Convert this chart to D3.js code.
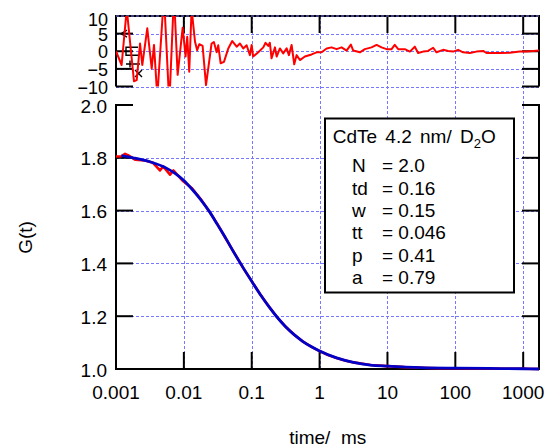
<!DOCTYPE html>
<html>
<head>
<meta charset="utf-8">
<script src="https://cdn.jsdelivr.net/npm/d3@7/dist/d3.min.js"></script>
<style>
    body { margin: 0; background: #fff; }
    svg text { font-family: "Liberation Sans", Arial, sans-serif; font-size: 19px; fill: #000; }
</style>
</head>
<body>
<svg id="chart" width="552" height="448"></svg>
<script>
    // tick values / labels
    var timeTicks = [0.001, 0.01, 0.1, 1, 10, 100, 1000];
    var timeTickLabels = ["0.001", "0.01", "0.1", "1", "10", "100", "1000"];
    var gTicks = [1.0, 1.2, 1.4, 1.6, 1.8, 2.0];
    var resTicks = [10, 5, 0, -5, -10];

    // measured G(t) (red), time in ms
    var dataT = [0.00100, 0.00121, 0.00136, 0.00150, 0.00191, 0.00267, 0.00351, 0.00444, 0.00496, 0.00625,
                 0.00700, 0.00980, 0.0130, 0.0178, 0.0237, 0.0316, 0.0422, 0.0562, 0.0750, 0.100,
                 0.133, 0.178, 0.237, 0.316, 0.422, 0.562, 0.750, 1.00, 1.33, 1.78,
                 2.37, 3.16, 5.62, 10.0, 17.8, 31.6, 56.2, 100, 178, 316, 562, 1000, 1710];
    var dataG = [1.805, 1.806, 1.815, 1.810, 1.793, 1.790, 1.781, 1.752, 1.767, 1.736,
                 1.752, 1.711, 1.686, 1.643, 1.597, 1.547, 1.490, 1.437, 1.382, 1.333,
                 1.283, 1.238, 1.196, 1.160, 1.130, 1.105, 1.085, 1.068, 1.053, 1.042,
                 1.032, 1.025, 1.015, 1.011, 1.007, 1.005, 1.003, 1.003, 1.002, 1.002, 1.001, 1.001, 1.000];

    // fit curve (blue)
    var fitT = [0.00120, 0.00178, 0.00316, 0.00562, 0.00750, 0.0100, 0.0133, 0.0178, 0.0237, 0.0316,
                0.0422, 0.0562, 0.0750, 0.100, 0.133, 0.178, 0.237, 0.316, 0.422, 0.562,
                0.750, 1.00, 1.78, 3.16, 5.62, 10.0, 31.6, 100, 316, 1000, 1710];
    var fitG = [1.808, 1.800, 1.785, 1.760, 1.740, 1.714, 1.680, 1.641, 1.597, 1.545,
                1.492, 1.436, 1.383, 1.332, 1.283, 1.237, 1.196, 1.160, 1.130, 1.105,
                1.085, 1.068, 1.042, 1.025, 1.015, 1.011, 1.005, 1.003, 1.002, 1.001, 1.000];

    // residuals (top panel)
    var resT = [0.00100, 0.00121, 0.00144, 0.00184, 0.00202, 0.00226, 0.00244, 0.00289, 0.00336, 0.00363,
                0.00406, 0.00509, 0.00610, 0.00715, 0.00810, 0.00960, 0.0106, 0.0112, 0.0120, 0.0130,
                0.0146, 0.0157, 0.0169, 0.0189, 0.0212, 0.0256, 0.0277, 0.0304, 0.0321, 0.0348,
                0.0390, 0.0451, 0.0516, 0.0600, 0.0670, 0.0750, 0.0841, 0.0940, 0.0998, 0.105,
                0.125, 0.148, 0.160, 0.175, 0.185, 0.196, 0.220, 0.233, 0.260, 0.291,
                0.327, 0.353, 0.387, 0.423, 0.458, 0.513, 0.607, 0.762, 0.903, 1.07,
                1.27, 1.50, 1.78, 2.11, 2.50, 2.89, 3.13, 3.93, 4.65, 5.83,
                6.91, 8.19, 9.70, 11.5, 12.8, 14.4, 18.0, 21.4, 25.3, 28.3,
                33.6, 39.7, 47.1, 52.8, 66.1, 78.3, 92.9, 110, 130, 164,
                205, 257, 288, 361, 452, 635, 891, 1120, 1400, 1710];
    var resV = [0, -3.9, 12, -8.5, -8.2, 2.2, -3.9, 6.5, -4.9, 1.8,
                -13, 16, -15, 16, -6.7, 6.7, -1.5, 4.1, -5.8, 12,
                2.7, 0.3, 2.0, 1.5, -9.6, 2.2, 2.6, -0.3, 1.7, -3.4,
                -3.0, 0.8, 2.9, 1.3, 2.2, 0.8, 1.7, -1.1, 1.8, -1.5,
                -0.3, 1.1, 2.4, 1.5, 2.4, -2.0, 1.1, -1.5, 0.8, -0.6,
                0.8, -1.1, 1.8, -3.7, -1.1, -2.5, -1.5, -0.9, -0.3, -0.3,
                0.8, 1.1, 0.6, 1.1, 0.2, 1.9, 0.2, -0.3, 0.6, 1.1,
                1.8, 1.1, 0.6, 0.6, 1.8, 0.6, 0.6, -0.1, 1.3, -0.5,
                -0.1, 0.1, 1.0, -0.3, 0.4, 0.1, -0.1, 0.4, -0.3, -0.5,
                -0.1, 0.1, -0.5, -0.5, -0.5, -0.4, -0.1, -0.1, 0.1, 0.2];

    var paramNames = ["N", "td", "w", "tt", "p", "a"];
    var paramValues = ["2.0", "0.16", "0.15", "0.046", "0.41", "0.79"];

    var svg = d3.select("#chart");

    var left = 116, right = 539;
    var x = d3.scaleLog().domain([0.001, 1710]).range([left, right]);
    var yG = d3.scaleLinear().domain([1.0, 2.0]).range([369, 105]);
    var yR = d3.scaleLinear().domain([-10, 10]).range([86.5, 16]);
    var tickLen = 17;
    var gridColor = "#7878ff";

    svg.append("defs").append("clipPath").attr("id", "resclip")
        .append("rect").attr("x", left).attr("y", yR(10))
        .attr("width", right - left).attr("height", yR(-10) - yR(10));

    // grid
    var grid = svg.append("g").attr("stroke", gridColor).attr("stroke-width", 1)
        .attr("stroke-dasharray", "3,2").attr("fill", "none");
    grid.selectAll("line.v").data(timeTicks.slice(1)).enter().append("line")
        .attr("x1", d => Math.round(x(d)) + 0.5).attr("x2", d => Math.round(x(d)) + 0.5)
        .attr("y1", yR(10)).attr("y2", yG(1.0));
    grid.selectAll("line.h").data([1.2, 1.4, 1.6, 1.8]).enter().append("line")
        .attr("x1", left).attr("x2", right)
        .attr("y1", d => Math.round(yG(d)) + 0.5).attr("y2", d => Math.round(yG(d)) + 0.5);
    grid.selectAll("line.r").data(resTicks.slice(1)).enter().append("line")
        .attr("x1", left).attr("x2", right)
        .attr("y1", d => Math.round(yR(d)) + 0.5).attr("y2", d => Math.round(yR(d)) + 0.5);

    // axes
    var ax = svg.append("g").attr("stroke", "#000").attr("stroke-width", 2).attr("fill", "none");
    // residual panel frame (top, left, right)
    ax.append("path").attr("d", "M" + left + "," + yR(-10) + "V" + yR(10) + "H" + right + "V" + yR(-10));
    // main panel frame (left, bottom, right)
    ax.append("path").attr("d", "M" + left + "," + (yG(2.0) - 1) + "V" + yG(1.0) + "H" + right + "V" + (yG(2.0) - 1));

    resTicks.forEach(function (v) {
        ax.append("line").attr("x1", left).attr("x2", left + tickLen).attr("y1", yR(v)).attr("y2", yR(v));
        ax.append("line").attr("x1", right).attr("x2", right - tickLen).attr("y1", yR(v)).attr("y2", yR(v));
    });
    gTicks.forEach(function (v) {
        ax.append("line").attr("x1", left).attr("x2", left + tickLen).attr("y1", yG(v)).attr("y2", yG(v));
        ax.append("line").attr("x1", right).attr("x2", right - tickLen).attr("y1", yG(v)).attr("y2", yG(v));
    });
    timeTicks.slice(1).forEach(function (t) {
        ax.append("line").attr("x1", x(t)).attr("x2", x(t)).attr("y1", yR(10)).attr("y2", yR(10) + tickLen);
        ax.append("line").attr("x1", x(t)).attr("x2", x(t)).attr("y1", yG(1.0)).attr("y2", yG(1.0) - tickLen);
    });
    // top grid line of residual drawn over the axis
    svg.append("line").attr("x1", left).attr("x2", right).attr("y1", yR(10)).attr("y2", yR(10))
        .attr("stroke", gridColor).attr("stroke-width", 1).attr("stroke-dasharray", "3,2");

    // little cursor glyphs at the left of the residual panel
    var gl = svg.append("g").attr("stroke", "#000").attr("stroke-width", 1.4).attr("fill", "none");
    gl.append("path").attr("d", "M127," + (yR(5) - 3.5) + "L121," + yR(5) + "L127," + (yR(5) + 3.5));
    gl.append("path").attr("d", "M138," + (yR(0) - 4) + "H126V" + (yR(0) + 4) + "H138");
    gl.append("path").attr("d", "M130," + (yR(-3.6) - 3.5) + "V" + (yR(-3.6) + 3.5) + "M126," + yR(-3.6) + "H140");
    gl.append("path").attr("d", "M135,70L142,77M142,70L135,77");

    // residual line
    var resLine = d3.line().x(d => x(d[0])).y(d => yR(d[1]));
    svg.append("path").datum(d3.zip(resT, resV))
        .attr("clip-path", "url(#resclip)")
        .attr("fill", "none").attr("stroke", "#ff0000").attr("stroke-width", 2)
        .attr("stroke-linejoin", "round").attr("d", resLine);

    // data and fit
    var gLine = d3.line().x(d => x(d[0])).y(d => yG(d[1]));
    svg.append("path").datum(d3.zip(dataT, dataG))
        .attr("fill", "none").attr("stroke", "#ff0000").attr("stroke-width", 2.6)
        .attr("stroke-linejoin", "round").attr("d", gLine);
    svg.append("path").datum(d3.zip(fitT, fitG))
        .attr("fill", "none").attr("stroke", "#0000c8").attr("stroke-width", 2.8)
        .attr("d", gLine.curve(d3.curveMonotoneX));

    // tick labels
    svg.selectAll("text.xt").data(timeTicks).enter().append("text")
        .attr("x", d => x(d)).attr("y", 399).attr("text-anchor", "middle")
        .text((d, i) => timeTickLabels[i]);
    svg.selectAll("text.yt").data(gTicks).enter().append("text")
        .attr("x", 107).attr("y", d => yG(d) + 1).attr("text-anchor", "end")
        .attr("dominant-baseline", "central").text(d => d.toFixed(1));
    svg.selectAll("text.rt").data(resTicks).enter().append("text")
        .attr("x", 108).attr("y", d => Math.max(yR(d) + 1, 20)).attr("text-anchor", "end")
        .attr("dominant-baseline", "central").style("font-size", "18px")
        .text(d => d < 0 ? "\u2212" + Math.abs(d) : String(d));

    // axis titles
    svg.append("text").attr("transform", "translate(31.5,237.5) rotate(-90)")
        .attr("text-anchor", "middle").text("G(t)");
    svg.append("text").attr("x", 327.7).attr("y", 444).attr("text-anchor", "middle")
        .attr("xml:space", "preserve").text("time/  ms");

    // legend box
    svg.append("rect").attr("x", 325).attr("y", 118.5).attr("width", 189).attr("height", 174)
        .attr("fill", "#fff").attr("stroke", "#000").attr("stroke-width", 2);
    var title = svg.append("text").attr("x", 332.7).attr("y", 143.3).style("word-spacing", "3px");
    title.append("tspan").text("CdTe 4.2 nm/ D");
    title.append("tspan").attr("dy", 5).style("font-size", "13px").text("2");
    title.append("tspan").attr("dy", -5).text("O");

    paramNames.forEach(function (n, i) {
        var yy = 172.3 + i * 22.3;
        svg.append("text").attr("x", 352).attr("y", yy).text(n);
        svg.append("text").attr("x", 382).attr("y", yy).text("= " + paramValues[i]);
    });
</script>
</body>
</html>
